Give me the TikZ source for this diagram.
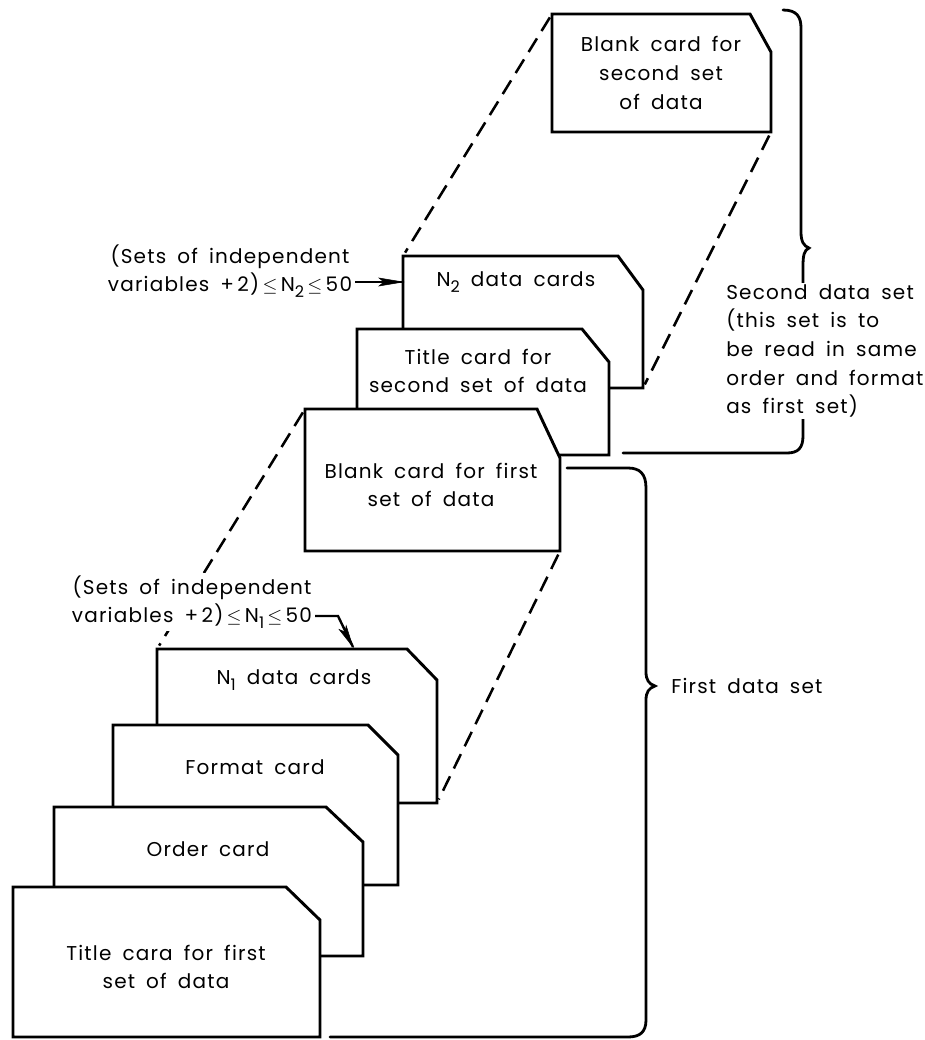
\documentclass[tikz,border=0pt]{standalone}
\usepackage{fontspec}
\setmainfont{Poppins}[LetterSpace=6, WordSpace=1.7]
\newcommand{\nsub}[1]{\raisebox{-0.5ex}{\fontsize{12}{12}\selectfont #1}}

\begin{document}
\begin{tikzpicture}[x=0.75pt,y=0.75pt,yscale=-1,xscale=1,
	card/.style={line width=2.2pt, fill=white, line join=miter},
	guide/.style={line width=1.9pt, dash pattern=on 12pt off 6.5pt, shorten >=3pt, shorten <=3pt},
	brace/.style={line width=2.1pt, line cap=round},
	lead/.style={line width=1.8pt},
	txt/.style={inner sep=0.75pt, align=center, font=\fontsize{15}{21.5}\selectfont}]
	\useasboundingbox (0,0) rectangle (925,1040);

	% blank card, second set
	\draw [card] (552,14) coordinate (b2nw) -- (750,14) -- (771,52) -- (771,132) coordinate (b2se) -- (552,132) -- cycle ;

	% second set, back to front
	\draw [card] (403,256) coordinate (n2nw) -- (618,256) -- (643,290) -- (643,388) coordinate (n2se) -- (403,388) -- cycle ;
	\draw [card] (357,329) -- (582,329) -- (609,362) -- (609,455) -- (357,455) -- cycle ;
	\draw [card] (305,409) coordinate (b1nw) -- (537,409) -- (560,458) -- (560,551) coordinate (b1se) -- (305,551) -- cycle ;

	% first set, back to front
	\draw [card] (157,649) coordinate (n1nw) -- (407,649) -- (437,680) -- (437,803) coordinate (n1se) -- (157,803) -- cycle ;
	\draw [card] (113,725) -- (368,725) -- (398,755) -- (398,885) -- (113,885) -- cycle ;
	\draw [card] (54,807) -- (326,807) -- (363,842) -- (363,956) -- (54,956) -- cycle ;
	\draw [card] (13,887) -- (286,887) -- (320,920) -- (320,1037) -- (13,1037) -- cycle ;

	\draw [guide] (b2nw) -- (n2nw) ;
	\draw [guide] (b2se) -- (n2se) ;
	\draw [guide] (b1nw) -- (n1nw) ;
	\draw [guide] (b1se) -- (n1se) ;

	% braces
	\draw [brace] (783,10) .. controls (797,10) and (801,17) .. (801,28) -- (801,232) .. controls (801,242) and (804,246) .. (809,248) .. controls (804,250) and (803,256) .. (803,266) -- (803,436) .. controls (803,448) and (798,453) .. (787,453) -- (623,453) ;
	\draw [brace] (567,468) -- (628,468) .. controls (640,468) and (646,474) .. (646,488) -- (646,672) .. controls (646,680) and (649,684) .. (655,686) .. controls (649,688) and (646,692) .. (646,700) -- (646,1020) .. controls (646,1032) and (640,1037) .. (628,1037) -- (330,1037) ;

	\node [txt] (b2txt) at (661,73) {Blank card for\\second set\\of data};
	\node [txt] (n2txt) at (516,282) {N\nsub{2} data cards};
	\node [txt] (t2txt) at (478,371) {Title card for\\second set of data};
	\node [txt] (b1txt) at (431,485) {Blank card for first\\set of data};
	\node [txt] (n1txt) at (294,680) {N\nsub{1} data cards};
	\node [txt] (ftxt) at (255,767) {Format card};
	\node [txt] (otxt) at (208,849) {Order card};
	\node [txt] (t1txt) at (166,967) {Title cara for first\\set of data};

	\node [txt, anchor=east, fill=white, inner sep=2pt] (lab2) at (355,271) {(Sets of independent\\variables +\,2)\,$\leq$\,N\nsub{2}\,$\leq$\,50};
	\node [txt, anchor=east, fill=white, inner sep=2pt] (lab1) at (315,602) {(Sets of independent\\variables +\,2)\,$\leq$\,N\nsub{1}\,$\leq$\,50};
	\node [txt, align=left, anchor=west, fill=white] (set2) at (725,351) {Second data set\\(this set is to\\be read in same\\order and format\\as first set)};
	\node [txt, anchor=west] (set1) at (670,686) {First data set};

	\coordinate (n2in) at (403,282);
	\draw [lead] (lab2.east |- n2in) -- (n2in) ;
	\draw [shift={(n2in)}, fill] (0,0) -- (-24,-4) -- (-19,0) -- (-24,4) -- cycle ;
	\coordinate (n1bend) at (338,616);
	\coordinate (n1in) at (353,647);
	\draw [lead] (lab1.east |- n1bend) -- (n1bend) -- (n1in) ;
	\draw [shift={(n1in)}, rotate=62, fill] (0,0) -- (-22,-4) -- (-17,0) -- (-22,4) -- cycle ;
\end{tikzpicture}
\end{document}
